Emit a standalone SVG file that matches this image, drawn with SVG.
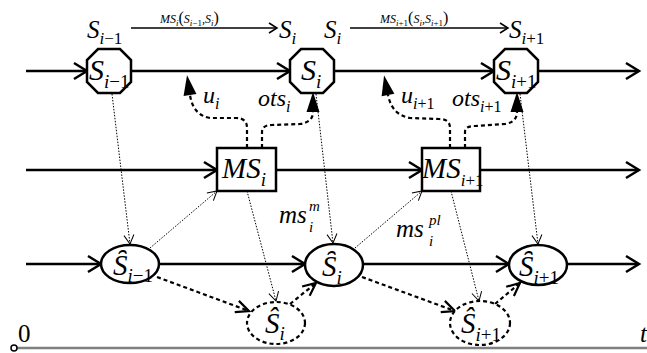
<svg xmlns="http://www.w3.org/2000/svg" width="647" height="353" viewBox="0 0 647 353">
<style>
.main{stroke:#000;stroke-width:2.5;fill:none}
.thin{stroke:#000;stroke-width:1.5;fill:none}
.dot{stroke:#000;stroke-width:1;stroke-dasharray:1.5 1.5;fill:none}
.dash{stroke:#000;stroke-width:2.2;stroke-dasharray:4 3;fill:none}
.node{stroke:#000;stroke-width:2.5;fill:#fff}
.dnode{stroke:#000;stroke-width:2.2;stroke-dasharray:4 3;fill:#fff}
</style>
<defs>
<marker id="chev" markerUnits="userSpaceOnUse" markerWidth="30" markerHeight="30" viewBox="-15 -15 30 30" refX="0" refY="0" orient="auto" overflow="visible">
<path d="M-13,-8 L0,0 L-13,8" fill="none" stroke="#000" stroke-width="2.5"/>
</marker>
<marker id="schev" markerUnits="userSpaceOnUse" markerWidth="20" markerHeight="20" viewBox="-10 -10 20 20" refX="0" refY="0" orient="auto" overflow="visible">
<path d="M-8,-5 L0,0 L-8,5" fill="none" stroke="#000" stroke-width="1.5"/>
</marker>
<marker id="dchev" markerUnits="userSpaceOnUse" markerWidth="20" markerHeight="20" viewBox="-10 -10 20 20" refX="0" refY="0" orient="auto" overflow="visible">
<path d="M-9,-5 L0,0 L-9,5" fill="none" stroke="#000" stroke-width="1"/>
</marker>
<marker id="bchev" markerUnits="userSpaceOnUse" markerWidth="30" markerHeight="30" viewBox="-15 -15 30 30" refX="0" refY="0" orient="auto" overflow="visible">
<path d="M-13,-6 L0,0 L-13,6" fill="none" stroke="#000" stroke-width="2.2"/>
</marker>
<marker id="tri" markerUnits="userSpaceOnUse" markerWidth="30" markerHeight="30" viewBox="-15 -15 30 30" refX="0" refY="0" orient="auto" overflow="visible">
<path d="M0,-6.5 L20,0 L0,6.5 z" fill="#000" stroke="none"/>
</marker>
</defs>
<rect width="647" height="353" fill="#fff"/>

<g id="axis">
<line x1="14" y1="348" x2="647" y2="348" stroke="#808080" stroke-width="2.5"/>
<circle cx="14" cy="348" r="3" fill="#fff" stroke="#000" stroke-width="1.5"/>
<text x="18" y="342" font-size="25" font-family="Liberation Serif">0</text>
<text x="640" y="342" font-size="25" font-family="Liberation Serif" font-style="italic">t</text>
</g>

<g id="top-labels">
<text x="87" y="38" font-size="25" font-family="Liberation Serif" font-style="italic">S<tspan font-size="17" dy="6">i</tspan><tspan font-size="17" font-style="normal">−1</tspan></text>
<line class="thin" x1="131" y1="28" x2="277" y2="28" marker-end="url(#schev)"/>
<text x="160" y="23" font-size="12" font-family="Liberation Serif" font-style="italic">MS<tspan font-size="9" dy="3">i</tspan><tspan font-style="normal" font-size="16" dy="-3">(</tspan>S<tspan font-size="9" dy="3">i</tspan><tspan font-size="9" font-style="normal">−1</tspan><tspan dy="-3" font-style="normal">,</tspan>S<tspan font-size="9" dy="3">i</tspan><tspan font-style="normal" font-size="16" dy="-3">)</tspan></text>
<text x="279" y="38" font-size="25" font-family="Liberation Serif" font-style="italic">S<tspan font-size="17" dy="6">i</tspan></text>
<text x="324" y="38" font-size="25" font-family="Liberation Serif" font-style="italic">S<tspan font-size="17" dy="6">i</tspan></text>
<line class="thin" x1="350" y1="28" x2="508" y2="28" marker-end="url(#schev)"/>
<text x="380" y="23" font-size="12" font-family="Liberation Serif" font-style="italic">MS<tspan font-size="9" dy="3">i</tspan><tspan font-size="9" font-style="normal">+1</tspan><tspan font-style="normal" font-size="16" dy="-3">(</tspan>S<tspan font-size="9" dy="3">i</tspan><tspan dy="-3" font-style="normal">,</tspan>S<tspan font-size="9" dy="3">i</tspan><tspan font-size="9" font-style="normal">+1</tspan><tspan font-style="normal" font-size="16" dy="-3">)</tspan></text>
<text x="509" y="38" font-size="25" font-family="Liberation Serif" font-style="italic">S<tspan font-size="17" dy="6">i</tspan><tspan font-size="17" font-style="normal">+1</tspan></text>
</g>

<g id="connectors">
<line class="main" x1="26" y1="71" x2="87" y2="71" marker-end="url(#chev)"/>
<line class="main" x1="131" y1="71" x2="290" y2="71" marker-end="url(#chev)"/>
<line class="main" x1="335" y1="71" x2="494" y2="71" marker-end="url(#chev)"/>
<line class="main" x1="539" y1="71" x2="639" y2="71" marker-end="url(#chev)"/>
<line class="main" x1="26" y1="170" x2="217" y2="170" marker-end="url(#chev)"/>
<line class="main" x1="276" y1="170" x2="422" y2="170" marker-end="url(#chev)"/>
<line class="main" x1="480" y1="170" x2="639" y2="170" marker-end="url(#chev)"/>
<line class="main" x1="26" y1="264" x2="101" y2="264" marker-end="url(#chev)"/>
<line class="main" x1="159" y1="264" x2="305" y2="264" marker-end="url(#chev)"/>
<line class="main" x1="363" y1="264" x2="509" y2="264" marker-end="url(#chev)"/>
<line class="main" x1="567" y1="264" x2="639" y2="264" marker-end="url(#chev)"/>
<line class="dot" x1="112" y1="94" x2="130" y2="244" marker-end="url(#dchev)"/>
<line class="dot" x1="150" y1="248" x2="217" y2="191" marker-end="url(#dchev)"/>
<line class="dot" x1="247" y1="191" x2="276" y2="301" marker-end="url(#dchev)"/>
<line class="dot" x1="316" y1="94" x2="333" y2="243" marker-end="url(#dchev)"/>
<line class="dot" x1="355" y1="248" x2="422" y2="191" marker-end="url(#dchev)"/>
<line class="dot" x1="451" y1="191" x2="479" y2="301" marker-end="url(#dchev)"/>
<line class="dot" x1="520" y1="94" x2="538" y2="244" marker-end="url(#dchev)"/>
<path class="dash" d="M247,148 L247,128 Q247,118 236,118 L210,118 Q193,115 190,95" marker-end="url(#tri)"/>
<path class="dash" d="M262,148 L262,132 Q262,125 272,125 L300,124 Q313,122 313,112" marker-end="url(#tri)"/>
<path class="dash" d="M450,148 L450,128 Q450,119 439,119 L410,118 Q392,115 388,95" marker-end="url(#tri)"/>
<path class="dash" d="M465,148 L465,132 Q465,126 475,126 L505,124 Q517,122 517,112" marker-end="url(#tri)"/>
<line class="dash" x1="157" y1="277" x2="249" y2="311" marker-end="url(#bchev)"/>
<line class="dash" x1="290" y1="304" x2="316" y2="283" marker-end="url(#bchev)"/>
<line class="dash" x1="362" y1="277" x2="455" y2="311" marker-end="url(#bchev)"/>
<line class="dash" x1="495" y1="304" x2="520" y2="283" marker-end="url(#bchev)"/>
</g>

<g id="labels">
<text x="203" y="103" font-size="24" font-family="Liberation Serif" font-style="italic">u<tspan font-size="16" dy="6">i</tspan></text>
<text x="258" y="106" font-size="24" font-family="Liberation Serif" font-style="italic">ots<tspan font-size="16" dy="6">i</tspan></text>
<text x="401" y="103" font-size="24" font-family="Liberation Serif" font-style="italic">u<tspan font-size="16" dy="6">i</tspan><tspan font-size="16" font-style="normal">+1</tspan></text>
<text x="452" y="106" font-size="24" font-family="Liberation Serif" font-style="italic">ots<tspan font-size="16" dy="6">i</tspan><tspan font-size="16" font-style="normal">+1</tspan></text>
<text x="279" y="223" font-size="25" font-family="Liberation Serif" font-style="italic">ms</text>
<text x="309" y="211" font-size="15" font-family="Liberation Serif" font-style="italic">m</text>
<text x="309" y="232" font-size="15" font-family="Liberation Serif" font-style="italic">i</text>
<text x="396" y="237" font-size="25" font-family="Liberation Serif" font-style="italic">ms</text>
<text x="429" y="225" font-size="15" font-family="Liberation Serif" font-style="italic">pl</text>
<text x="429" y="246" font-size="15" font-family="Liberation Serif" font-style="italic">i</text>
</g>

<g id="node-S-im1">
<polygon class="node" stroke-width="2" points="98,49 120,49 131,60 131,82 120,93 98,93 87,82 87,60"/>
<text x="89" y="80" font-size="30" font-family="Liberation Serif" font-style="italic">S<tspan font-size="19" dy="8">i</tspan><tspan font-size="19" font-style="normal">−1</tspan></text>
</g>
<g id="node-S-i">
<polygon class="node" stroke-width="2" points="301,49 323,49 334,60 334,82 323,93 301,93 290,82 290,60"/>
<text x="301" y="80" font-size="30" font-family="Liberation Serif" font-style="italic">S<tspan font-size="19" dy="8">i</tspan></text>
</g>
<g id="node-S-ip1">
<polygon class="node" stroke-width="2" points="505,49 527,49 538,60 538,82 527,93 505,93 494,82 494,60"/>
<text x="496" y="80" font-size="30" font-family="Liberation Serif" font-style="italic">S<tspan font-size="19" dy="8">i</tspan><tspan font-size="19" font-style="normal">+1</tspan></text>
</g>

<g id="node-MS-i">
<rect class="node" x="217" y="148" width="59" height="43"/>
<text x="222" y="178" font-size="29" font-family="Liberation Serif" font-style="italic">MS<tspan font-size="19" dy="8">i</tspan></text>
</g>
<g id="node-MS-ip1">
<rect class="node" x="422" y="148" width="58" height="43"/>
<text x="422" y="178" font-size="29" font-family="Liberation Serif" font-style="italic">MS<tspan font-size="17" dy="8">i</tspan><tspan font-size="17" font-style="normal">+1</tspan></text>
</g>

<g id="node-Sh-im1">
<ellipse class="node" cx="130" cy="264" rx="29" ry="19"/>
<text x="113" y="275" font-size="29" font-family="Liberation Serif" font-style="italic">S̑<tspan font-size="19" dy="7">i</tspan><tspan font-size="19" font-style="normal">−1</tspan></text>
</g>
<g id="node-Sh-i">
<ellipse class="node" cx="334" cy="265" rx="29" ry="21"/>
<text x="322" y="276" font-size="29" font-family="Liberation Serif" font-style="italic">S̑<tspan font-size="19" dy="8">i</tspan></text>
</g>
<g id="node-Sh-ip1">
<ellipse class="node" cx="538" cy="265" rx="29" ry="20"/>
<text x="519" y="276" font-size="29" font-family="Liberation Serif" font-style="italic">S̑<tspan font-size="19" dy="8">i</tspan><tspan font-size="19" font-style="normal">+1</tspan></text>
</g>
<g id="node-Sd-i">
<ellipse class="dnode" cx="276" cy="323" rx="29" ry="21"/>
<text x="265" y="333" font-size="29" font-family="Liberation Serif" font-style="italic">Ŝ<tspan font-size="19" dy="7">i</tspan></text>
</g>
<g id="node-Sd-ip1">
<ellipse class="dnode" cx="480" cy="323" rx="30" ry="22"/>
<text x="461" y="333" font-size="29" font-family="Liberation Serif" font-style="italic">Ŝ<tspan font-size="19" dy="8">i</tspan><tspan font-size="19" font-style="normal">+1</tspan></text>
</g>
</svg>
